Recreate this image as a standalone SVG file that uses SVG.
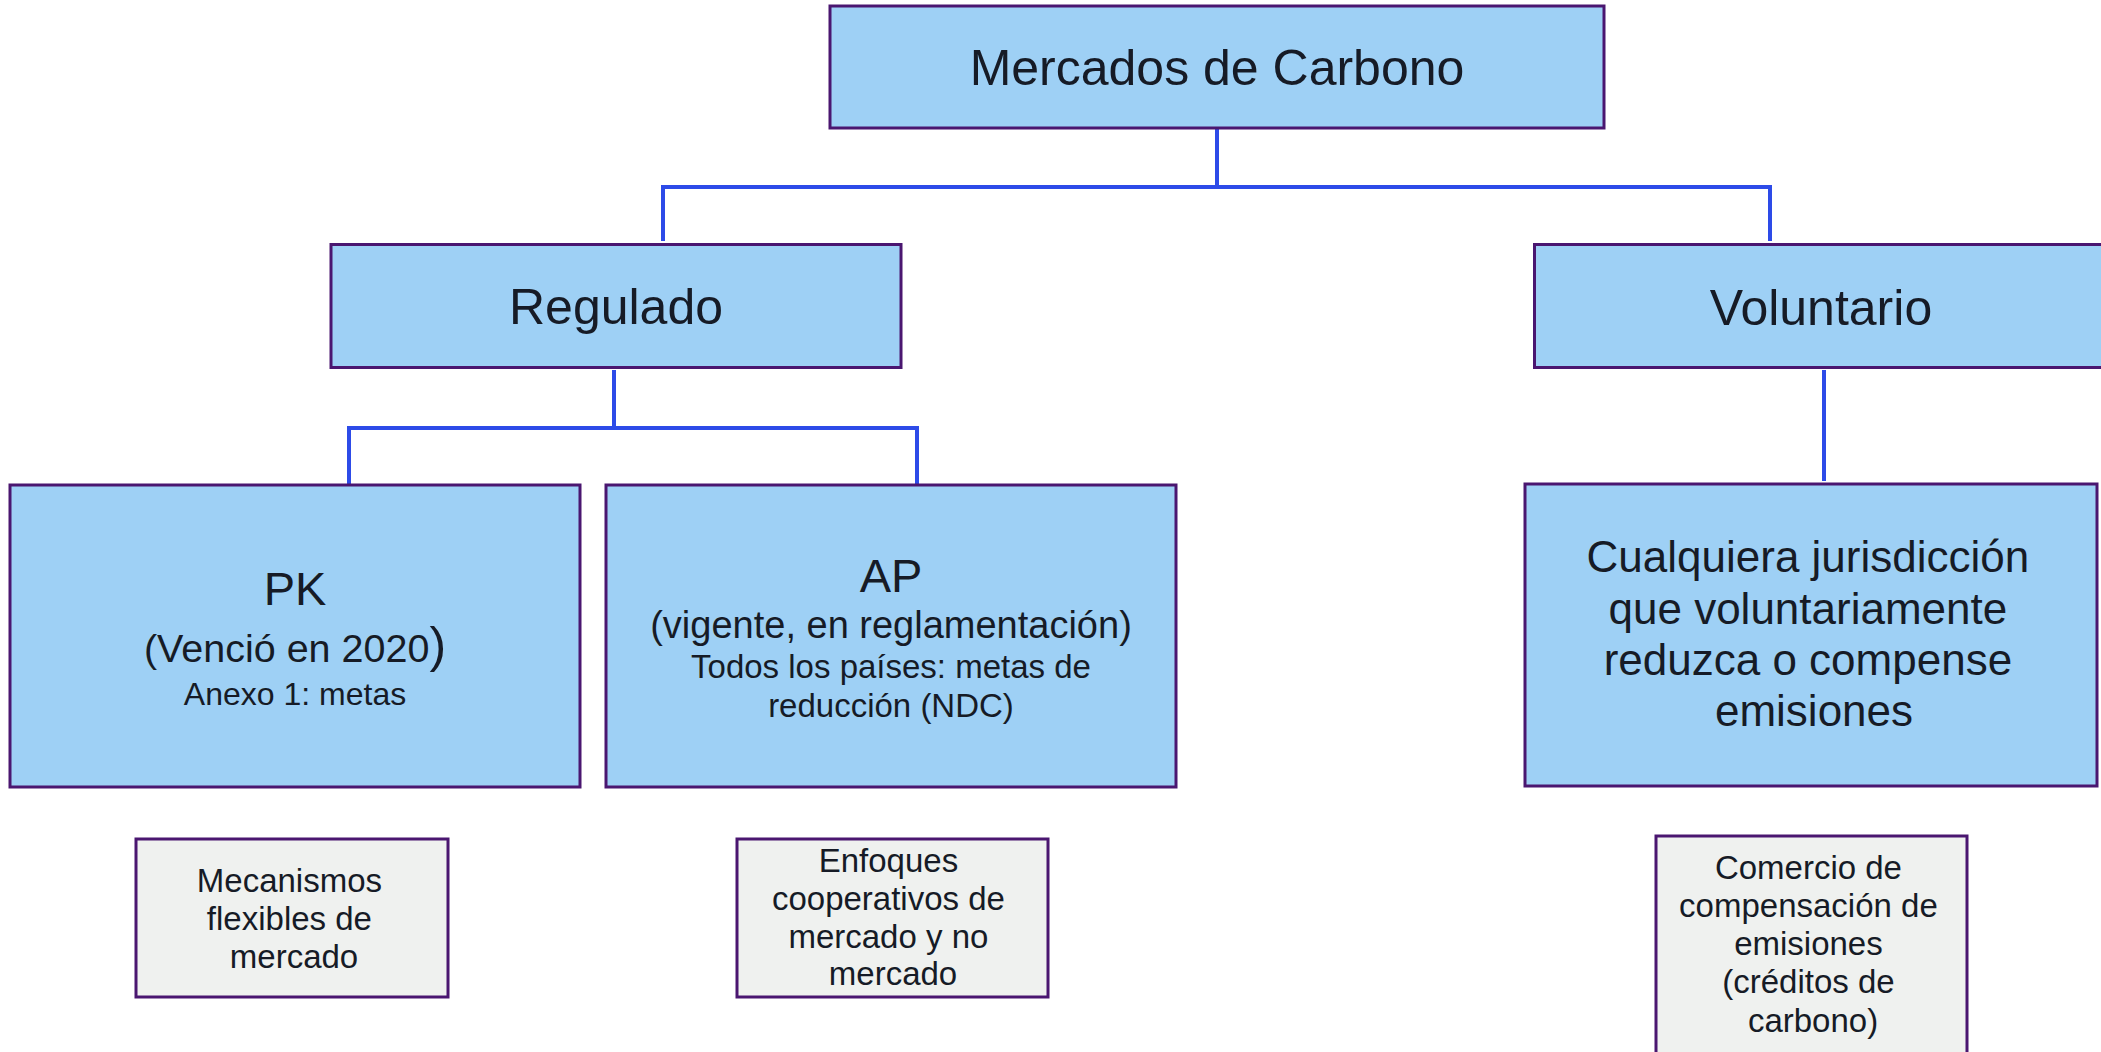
<svg xmlns="http://www.w3.org/2000/svg" width="2101" height="1052" viewBox="0 0 2101 1052">
<style>
.blue{fill:#9ED0F5;stroke:#4A1670;stroke-width:3}
.gray{fill:#EFF1EF;stroke:#4A1670;stroke-width:3}
.t{font-family:"Liberation Sans",Arial,sans-serif;fill:#161b26;text-anchor:middle}
.conn line{stroke:#2D4BE8;stroke-width:4;stroke-linecap:butt}
</style>
<rect width="2101" height="1052" fill="#ffffff"/>
<g id="connectors" class="conn">
<line x1="1217" y1="129" x2="1217" y2="187"/>
<line x1="661" y1="187" x2="1772" y2="187"/>
<line x1="663" y1="185" x2="663" y2="241"/>
<line x1="1770" y1="185" x2="1770" y2="241"/>
<line x1="614" y1="370" x2="614" y2="428"/>
<line x1="347" y1="428" x2="919" y2="428"/>
<line x1="349" y1="426" x2="349" y2="487"/>
<line x1="917" y1="426" x2="917" y2="492"/>
<line x1="1824" y1="370" x2="1824" y2="481"/>
</g>
<g id="mercados">
<rect class="blue" x="830" y="6" width="774" height="122"/>
<text class="t" x="1217" y="85" font-size="50">Mercados de Carbono</text>
</g>
<g id="regulado">
<rect class="blue" x="331" y="244.5" width="570" height="123"/>
<text class="t" x="616" y="324" font-size="50">Regulado</text>
</g>
<g id="voluntario">
<rect class="blue" x="1534.5" y="244.5" width="600" height="123"/>
<text class="t" x="1821" y="324.5" font-size="50">Voluntario</text>
</g>
<g id="pk">
<rect class="blue" x="10" y="485" width="570" height="302"/>
<text class="t" x="295" y="605" font-size="47">PK</text>
<text class="t" x="295" y="662" font-size="39.5">(Venció en 2020<tspan font-size="50">)</tspan></text>
<text class="t" x="295" y="705" font-size="32">Anexo 1: metas</text>
</g>
<g id="ap">
<rect class="blue" x="606" y="485" width="570" height="302"/>
<text class="t" x="891" y="592" font-size="47">AP</text>
<text class="t" x="891" y="638" font-size="38">(vigente, en reglamentación)</text>
<text class="t" x="891" y="678" font-size="33">Todos los países: metas de</text>
<text class="t" x="891" y="717" font-size="33">reducción (NDC)</text>
</g>
<g id="cualquiera">
<rect class="blue" x="1525" y="484" width="572" height="302"/>
<text class="t" font-size="44">
<tspan x="1814" y="572">Cualquiera jurisdicción</tspan>
<tspan x="1814" y="624">que voluntariamente</tspan>
<tspan x="1814" y="675">reduzca o compense</tspan>
<tspan x="1814" y="726">emisiones</tspan>
</text>
</g>
<g id="mecanismos">
<rect class="gray" x="136" y="839" width="312" height="158"/>
<text class="t" font-size="33">
<tspan x="294" y="892">Mecanismos</tspan>
<tspan x="294" y="930">flexibles de</tspan>
<tspan x="294" y="968">mercado</tspan>
</text>
</g>
<g id="enfoques">
<rect class="gray" x="737" y="839" width="311" height="158"/>
<text class="t" font-size="33">
<tspan x="893" y="872">Enfoques</tspan>
<tspan x="893" y="910">cooperativos de</tspan>
<tspan x="893" y="948">mercado y no</tspan>
<tspan x="893" y="985">mercado</tspan>
</text>
</g>
<g id="comercio">
<rect class="gray" x="1656" y="836" width="311" height="220"/>
<text class="t" font-size="33">
<tspan x="1813" y="879">Comercio de</tspan>
<tspan x="1813" y="917">compensación de</tspan>
<tspan x="1813" y="955">emisiones</tspan>
<tspan x="1813" y="993">(créditos de</tspan>
<tspan x="1813" y="1032">carbono)</tspan>
</text>
</g>
</svg>
